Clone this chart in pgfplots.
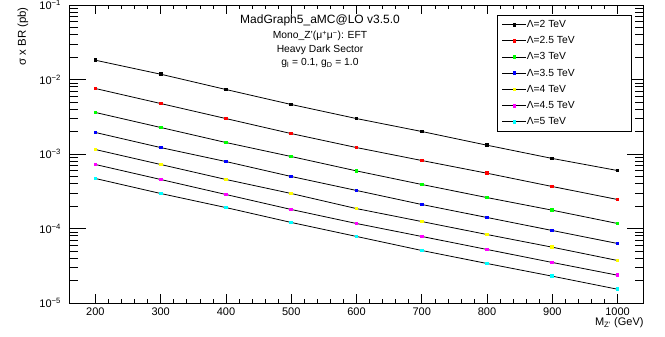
\documentclass[border=0pt]{standalone}
\usepackage{fontspec}
\setmainfont{Liberation Sans}
\usepackage{pgfplots}
\pgfplotsset{compat=1.18}
\usepackage{pgfplotstable}
\definecolor{rred}{rgb}{1,0,0}
\definecolor{rgreen}{rgb}{0,1,0}
\definecolor{rblue}{rgb}{0,0,1}
\definecolor{ryellow}{rgb}{1,1,0}
\definecolor{rmagenta}{rgb}{1,0,1}
\definecolor{rcyan}{rgb}{0,1,1}
\pgfplotstableread{
m   a        b        c         d         e         f         g
200 0.01815  0.00757  0.00361   0.001945  0.001148  0.000723  0.000469
300 0.01178  0.00476  0.00227   0.00122   0.000723  0.000455  0.000295
400 0.00734  0.00299  0.001426  0.000792  0.000455  0.000286  0.000191
500 0.00462  0.00188  0.000925  0.000499  0.000295  0.00018   0.0001205
600 0.00299  0.00122  0.000593  0.000324  0.000185  0.0001167 0.0000782
700 0.002005 0.000818 0.00039   0.00021   0.000124  0.0000782 0.0000507
800 0.001312 0.000552 0.00026   0.0001405 0.000083  0.0000523 0.0000339
900 0.000871 0.000366 0.000176  0.000094  0.0000561 0.000035  0.0000229
1000 0.0006  0.000245 0.0001167 0.0000629 0.0000372 0.0000236 0.0000153
}\data
\begin{document}
\begin{tikzpicture}
\useasboundingbox (-69.3pt,-34pt) rectangle (595.7pt,303pt);
\begin{axis}[
  scale only axis,
  width=574.4pt, height=298pt,
  at={(0,0)}, anchor=south west,
  ymode=log, log basis y=10,
  xmin=160, xmax=1040,
  ymin=1e-5, ymax=1e-1,
  xtick={200,300,...,1000},
  minor x tick num=4,
  axis line style={line width=0.9pt},
  tick style={black, line width=0.6pt},
  xtick style={/pgfplots/major tick length=9pt,/pgfplots/minor tick length=4.5pt},
  ytick style={/pgfplots/major tick length=17pt,/pgfplots/minor tick length=8.6pt},
  /pgf/number format/assume math mode=true,
  /pgf/number format/1000 sep={},
  ticklabel style={font=\fontsize{11}{13}\selectfont},
  xticklabel style={yshift=-1pt},
  yticklabel style={xshift=-4.8pt},
  yticklabel={\pgfmathtruncatemacro{\e}{round(-\tick)}10\textsuperscript{−\e}},
  xlabel={M\textsubscript{Z'} (GeV)},
  ylabel={σ x BR (pb)},
  xlabel style={at={(axis description cs:1,-0.066)}, anchor=east, inner sep=0pt, font=\fontsize{11}{13}\selectfont},
  ylabel style={at={(axis description cs:-0.0806,0.9933)}, anchor=east, inner sep=0pt, font=\fontsize{11.4}{13}\selectfont},
  legend style={at={(axis description cs:0.980,0.9664)}, anchor=north east,
    draw=black, line width=0.8pt, font=\fontsize{10.3}{12}\selectfont,
    inner xsep=5pt, inner ysep=2pt, row sep=1.7pt, column sep=-2pt,
    nodes={inner sep=2pt, text height=8pt, text depth=2.5pt}},
  legend cell align=left,
  legend image code/.code={\draw[mark repeat=2,mark phase=2,#1] plot coordinates {(0pt,0pt) (12pt,0pt) (24pt,0pt)};},
]
\addplot[black, solid, line width=0.8pt, mark=square*, mark size=1.35pt, mark options={solid, draw=black, fill=black, line width=0pt}] table[x=m,y=a]{\data};
\addlegendentry{\makebox[98pt][l]{Λ=2 TeV}}
\addplot[black, solid, line width=0.8pt, mark=square*, mark size=1.35pt, mark options={solid, draw=rred, fill=rred, line width=0pt}] table[x=m,y=b]{\data};
\addlegendentry{\makebox[98pt][l]{Λ=2.5 TeV}}
\addplot[black, solid, line width=0.8pt, mark=square*, mark size=1.35pt, mark options={solid, draw=rgreen, fill=rgreen, line width=0pt}] table[x=m,y=c]{\data};
\addlegendentry{\makebox[98pt][l]{Λ=3 TeV}}
\addplot[black, solid, line width=0.8pt, mark=square*, mark size=1.35pt, mark options={solid, draw=rblue, fill=rblue, line width=0pt}] table[x=m,y=d]{\data};
\addlegendentry{\makebox[98pt][l]{Λ=3.5 TeV}}
\addplot[black, solid, line width=0.8pt, mark=square*, mark size=1.35pt, mark options={solid, draw=ryellow, fill=ryellow, line width=0pt}] table[x=m,y=e]{\data};
\addlegendentry{\makebox[98pt][l]{Λ=4 TeV}}
\addplot[black, solid, line width=0.8pt, mark=square*, mark size=1.35pt, mark options={solid, draw=rmagenta, fill=rmagenta, line width=0pt}] table[x=m,y=f]{\data};
\addlegendentry{\makebox[98pt][l]{Λ=4.5 TeV}}
\addplot[black, solid, line width=0.8pt, mark=square*, mark size=1.35pt, mark options={solid, draw=rcyan, fill=rcyan, line width=0pt}] table[x=m,y=g]{\data};
\addlegendentry{\makebox[98pt][l]{Λ=5 TeV}}
\node[font=\fontsize{12}{14}\selectfont] at (axis description cs:0.4365,0.9497) {MadGraph5\_aMC@LO v3.5.0};
\node[font=\fontsize{10.3}{12}\selectfont] at (axis description cs:0.4365,0.8960) {Mono\_Z'(μ\textsuperscript{+}μ\textsuperscript{−}): EFT};
\node[font=\fontsize{10.3}{12}\selectfont] at (axis description cs:0.4365,0.8490) {Heavy Dark Sector};
\node[font=\fontsize{10.3}{12}\selectfont] at (axis description cs:0.4365,0.8054) {g\textsubscript{l} = 0.1, g\textsubscript{D} = 1.0};
\end{axis}
\end{tikzpicture}
\end{document}
